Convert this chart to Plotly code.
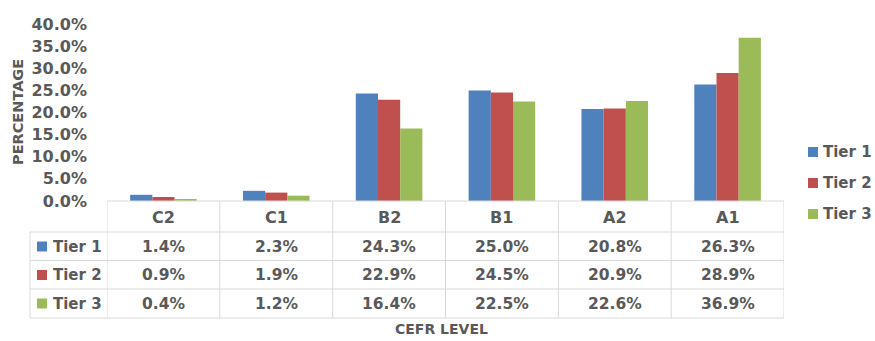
import plotly.graph_objects as go

# CEFR levels and the share of students at each level per tier (percent)
levels = ["C2", "C1", "B2", "B1", "A2", "A1"]
tier_names = ["Tier 1", "Tier 2", "Tier 3"]
tier1 = [1.4, 2.3, 24.3, 25.0, 20.8, 26.3]
tier2 = [0.9, 1.9, 22.9, 24.5, 20.9, 28.9]
tier3 = [0.4, 1.2, 16.4, 22.5, 22.6, 36.9]
y_ticks = [0, 5, 10, 15, 20, 25, 30, 35, 40]

series = [tier1, tier2, tier3]
colors = ["#4F81BD", "#C0504D", "#9BBB59"]

W, H = 875, 341
FONT = "DejaVu Sans"
TXT = "#595959"
GRID = "#D9D9D9"

# plot area in pixels
PX0, PX1 = 107, 784
PY0, PY1 = 24, 201


def px(x):
    return x / W


def py(y):
    return 1 - y / H


def bold(size):
    return dict(family=FONT, size=size, color=TXT, weight="bold")


def label(text, x, y, xref="paper", size=16, xanchor="center", **kw):
    return dict(x=x, y=y, xref=xref, yref="paper", text=text, showarrow=False,
                xanchor=xanchor, yanchor="middle", font=bold(size), **kw)


fig = go.Figure()
for name, vals, col in zip(tier_names, series, colors):
    fig.add_trace(go.Bar(
        x=levels, y=vals, name=name, marker_color=col,
        marker_line_width=0, showlegend=False,
        hovertemplate="%{x}: %{y:.1f}%<extra>" + name + "</extra>",
    ))

shapes = []
annotations = []

# data table beneath the plot
row_lines = [232, 260.5, 289, 318]
row_centers = [217, 246.5, 275, 303.5]

# top edge of the header row
shapes.append(dict(type="line", xref="paper", yref="paper",
                   x0=px(PX0), x1=px(PX1), y0=py(PY1), y1=py(PY1),
                   line=dict(color=GRID, width=1)))
# horizontal row separators (include row-label column)
for yl in row_lines:
    shapes.append(dict(type="line", xref="paper", yref="paper",
                       x0=px(30), x1=px(PX1), y0=py(yl), y1=py(yl),
                       line=dict(color=GRID, width=1)))
# vertical column separators at category boundaries
for i in range(len(levels) + 1):
    shapes.append(dict(type="line", xref="x", yref="paper",
                       x0=i - 0.5, x1=i - 0.5, y0=py(PY1), y1=py(row_lines[-1]),
                       line=dict(color=GRID, width=1)))
# left border of the row-label column
shapes.append(dict(type="line", xref="paper", yref="paper",
                   x0=px(30), x1=px(30), y0=py(row_lines[0]), y1=py(row_lines[-1]),
                   line=dict(color=GRID, width=1)))

# header: category names
for lv in levels:
    annotations.append(label(lv, lv, py(row_centers[0]), xref="x"))

# rows: colour key, tier name, values
for r, (name, vals, col) in enumerate(zip(tier_names, series, colors)):
    yc = row_centers[r + 1]
    shapes.append(dict(type="rect", xref="paper", yref="paper",
                       x0=px(37), x1=px(47), y0=py(yc + 5), y1=py(yc - 5),
                       fillcolor=col, line=dict(width=0)))
    annotations.append(label(name, px(51), py(yc), xanchor="left", size=15))
    for lv, v in zip(levels, vals):
        annotations.append(label(f"{v:.1f}%", lv, py(yc), xref="x", size=15.5))

# series key on the right
legend_y = [152, 183, 214]
for name, col, yc in zip(tier_names, colors, legend_y):
    shapes.append(dict(type="rect", xref="paper", yref="paper",
                       x0=px(808), x1=px(818), y0=py(yc + 5), y1=py(yc - 5),
                       fillcolor=col, line=dict(width=0)))
    annotations.append(label(name, px(821), py(yc), xanchor="left", size=15))

# axis titles
annotations.append(label("CEFR LEVEL", px(441), py(329), size=14))
annotations.append(label("PERCENTAGE", px(18), py(112), size=14.5, textangle=-90))

fig.update_layout(
    width=W, height=H,
    margin=dict(l=0, r=0, t=0, b=0, autoexpand=False),
    paper_bgcolor="white", plot_bgcolor="white",
    barmode="group", bargap=0.41, bargroupgap=0,
    font=dict(family=FONT, color=TXT),
    shapes=shapes, annotations=annotations,
    showlegend=False,
    xaxis=dict(domain=[px(PX0), px(PX1)], range=[-0.5, 5.5],
               showticklabels=False, showline=False, showgrid=False,
               zeroline=False, ticks="", automargin=False),
    yaxis=dict(domain=[py(PY1), py(PY0)], range=[0, 40],
               tickvals=y_ticks, ticktext=[f"{t:.1f}%" for t in y_ticks],
               showgrid=False, showline=False, zeroline=False,
               ticks="", ticklabelstandoff=19, automargin=False,
               tickfont=bold(16)),
)

fig.write_html("out.html")
